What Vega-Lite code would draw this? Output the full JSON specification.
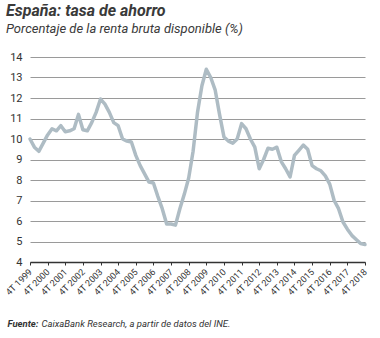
{
  "$schema": "https://vega.github.io/schema/vega-lite/v6.json",
  "autosize": "none",
  "width": 340,
  "height": 205,
  "padding": {"left": 30, "top": 57, "right": 10, "bottom": 76},
  "background": "white",
  "title": {
    "text": "España: tasa de ahorro",
    "subtitle": "Porcentaje de la renta bruta disponible (%)",
    "anchor": "start",
    "frame": "group",
    "dx": -24,
    "offset": 15,
    "font": "Roboto",
    "fontSize": 16,
    "fontStyle": "italic",
    "fontWeight": "bold",
    "color": "#3a3a3a",
    "subtitleFont": "Roboto",
    "subtitleFontSize": 13,
    "subtitleFontStyle": "italic",
    "subtitleColor": "#3a3a3a",
    "subtitlePadding": 4
  },
  "config": {
    "view": {"stroke": null},
    "font": "Roboto"
  },
  "data": {
    "values": [
      {"q": "4T 1999", "v": 10.0}, {"q": "1T 2000", "v": 9.6}, {"q": "2T 2000", "v": 9.4}, {"q": "3T 2000", "v": 9.8},
      {"q": "4T 2000", "v": 10.2}, {"q": "1T 2001", "v": 10.5}, {"q": "2T 2001", "v": 10.4}, {"q": "3T 2001", "v": 10.65},
      {"q": "4T 2001", "v": 10.35}, {"q": "1T 2002", "v": 10.4}, {"q": "2T 2002", "v": 10.5}, {"q": "3T 2002", "v": 11.2},
      {"q": "4T 2002", "v": 10.45}, {"q": "1T 2003", "v": 10.4}, {"q": "2T 2003", "v": 10.8}, {"q": "3T 2003", "v": 11.3},
      {"q": "4T 2003", "v": 11.95}, {"q": "1T 2004", "v": 11.7}, {"q": "2T 2004", "v": 11.3}, {"q": "3T 2004", "v": 10.8},
      {"q": "4T 2004", "v": 10.65}, {"q": "1T 2005", "v": 10.0}, {"q": "2T 2005", "v": 9.9}, {"q": "3T 2005", "v": 9.85},
      {"q": "4T 2005", "v": 9.2}, {"q": "1T 2006", "v": 8.7}, {"q": "2T 2006", "v": 8.3}, {"q": "3T 2006", "v": 7.9},
      {"q": "4T 2006", "v": 7.85}, {"q": "1T 2007", "v": 7.2}, {"q": "2T 2007", "v": 6.6}, {"q": "3T 2007", "v": 5.85},
      {"q": "4T 2007", "v": 5.85}, {"q": "1T 2008", "v": 5.8}, {"q": "2T 2008", "v": 6.6}, {"q": "3T 2008", "v": 7.3},
      {"q": "4T 2008", "v": 8.1}, {"q": "1T 2009", "v": 9.4}, {"q": "2T 2009", "v": 11.3}, {"q": "3T 2009", "v": 12.6},
      {"q": "4T 2009", "v": 13.4}, {"q": "1T 2010", "v": 13.0}, {"q": "2T 2010", "v": 12.4}, {"q": "3T 2010", "v": 11.2},
      {"q": "4T 2010", "v": 10.1}, {"q": "1T 2011", "v": 9.9}, {"q": "2T 2011", "v": 9.8}, {"q": "3T 2011", "v": 10.0},
      {"q": "4T 2011", "v": 10.75}, {"q": "1T 2012", "v": 10.5}, {"q": "2T 2012", "v": 10.0}, {"q": "3T 2012", "v": 9.6},
      {"q": "4T 2012", "v": 8.55}, {"q": "1T 2013", "v": 9.0}, {"q": "2T 2013", "v": 9.55}, {"q": "3T 2013", "v": 9.5},
      {"q": "4T 2013", "v": 9.6}, {"q": "1T 2014", "v": 8.9}, {"q": "2T 2014", "v": 8.55}, {"q": "3T 2014", "v": 8.15},
      {"q": "4T 2014", "v": 9.2}, {"q": "1T 2015", "v": 9.45}, {"q": "2T 2015", "v": 9.7}, {"q": "3T 2015", "v": 9.5},
      {"q": "4T 2015", "v": 8.7}, {"q": "1T 2016", "v": 8.55}, {"q": "2T 2016", "v": 8.45}, {"q": "3T 2016", "v": 8.2},
      {"q": "4T 2016", "v": 7.8}, {"q": "1T 2017", "v": 7.0}, {"q": "2T 2017", "v": 6.6}, {"q": "3T 2017", "v": 5.95},
      {"q": "4T 2017", "v": 5.6}, {"q": "1T 2018", "v": 5.3}, {"q": "2T 2018", "v": 5.1}, {"q": "3T 2018", "v": 4.9},
      {"q": "4T 2018", "v": 4.85}
    ]
  },
  "mark": {"type": "line", "color": "#aebcc4", "strokeWidth": 3.5, "strokeJoin": "round", "strokeCap": "round"},
  "encoding": {
    "x": {
      "field": "q",
      "type": "ordinal",
      "sort": null,
      "scale": {"type": "point", "padding": 0, "range": [0, 335]},
      "axis": {
        "values": ["4T 1999", "4T 2000", "4T 2001", "4T 2002", "4T 2003", "4T 2004", "4T 2005", "4T 2006", "4T 2007", "4T 2008", "4T 2009", "4T 2010", "4T 2011", "4T 2012", "4T 2013", "4T 2014", "4T 2015", "4T 2016", "4T 2017", "4T 2018"],
        "labelAngle": -45,
        "labelAlign": "right",
        "labelBaseline": "middle",
        "labelFontSize": 9,
        "labelColor": "#333333",
        "labelPadding": 5,
        "ticks": true,
        "tickSize": 3,
        "tickColor": "#333333",
        "domain": true,
        "domainColor": "#333333",
        "domainWidth": 1.5,
        "grid": false,
        "title": "CaixaBank Research, a partir de datos del INE.",
        "titleFont": "Roboto",
        "titleFontSize": 9.5,
        "titleFontStyle": "italic",
        "titleFontWeight": "normal",
        "titleColor": "#333333",
        "titleAnchor": "start",
        "titleAlign": "left",
        "titleBaseline": "alphabetic",
        "titleX": 11,
        "titleY": 64
      }
    },
    "y": {
      "field": "v",
      "type": "quantitative",
      "scale": {"domain": [4, 14], "nice": false, "zero": false},
      "axis": {
        "values": [4, 5, 6, 7, 8, 9, 10, 11, 12, 13, 14],
        "labelFontSize": 11,
        "labelColor": "#333333",
        "labelPadding": 8,
        "ticks": false,
        "domain": false,
        "grid": true,
        "gridColor": "#9a9a9a",
        "gridWidth": 1,
        "title": "Fuente:",
        "titleFont": "Roboto",
        "titleFontSize": 9.5,
        "titleFontStyle": "italic",
        "titleFontWeight": "bold",
        "titleColor": "#333333",
        "titleAngle": 0,
        "titleAlign": "left",
        "titleBaseline": "alphabetic",
        "titleX": -23,
        "titleY": 269
      }
    }
  }
}
